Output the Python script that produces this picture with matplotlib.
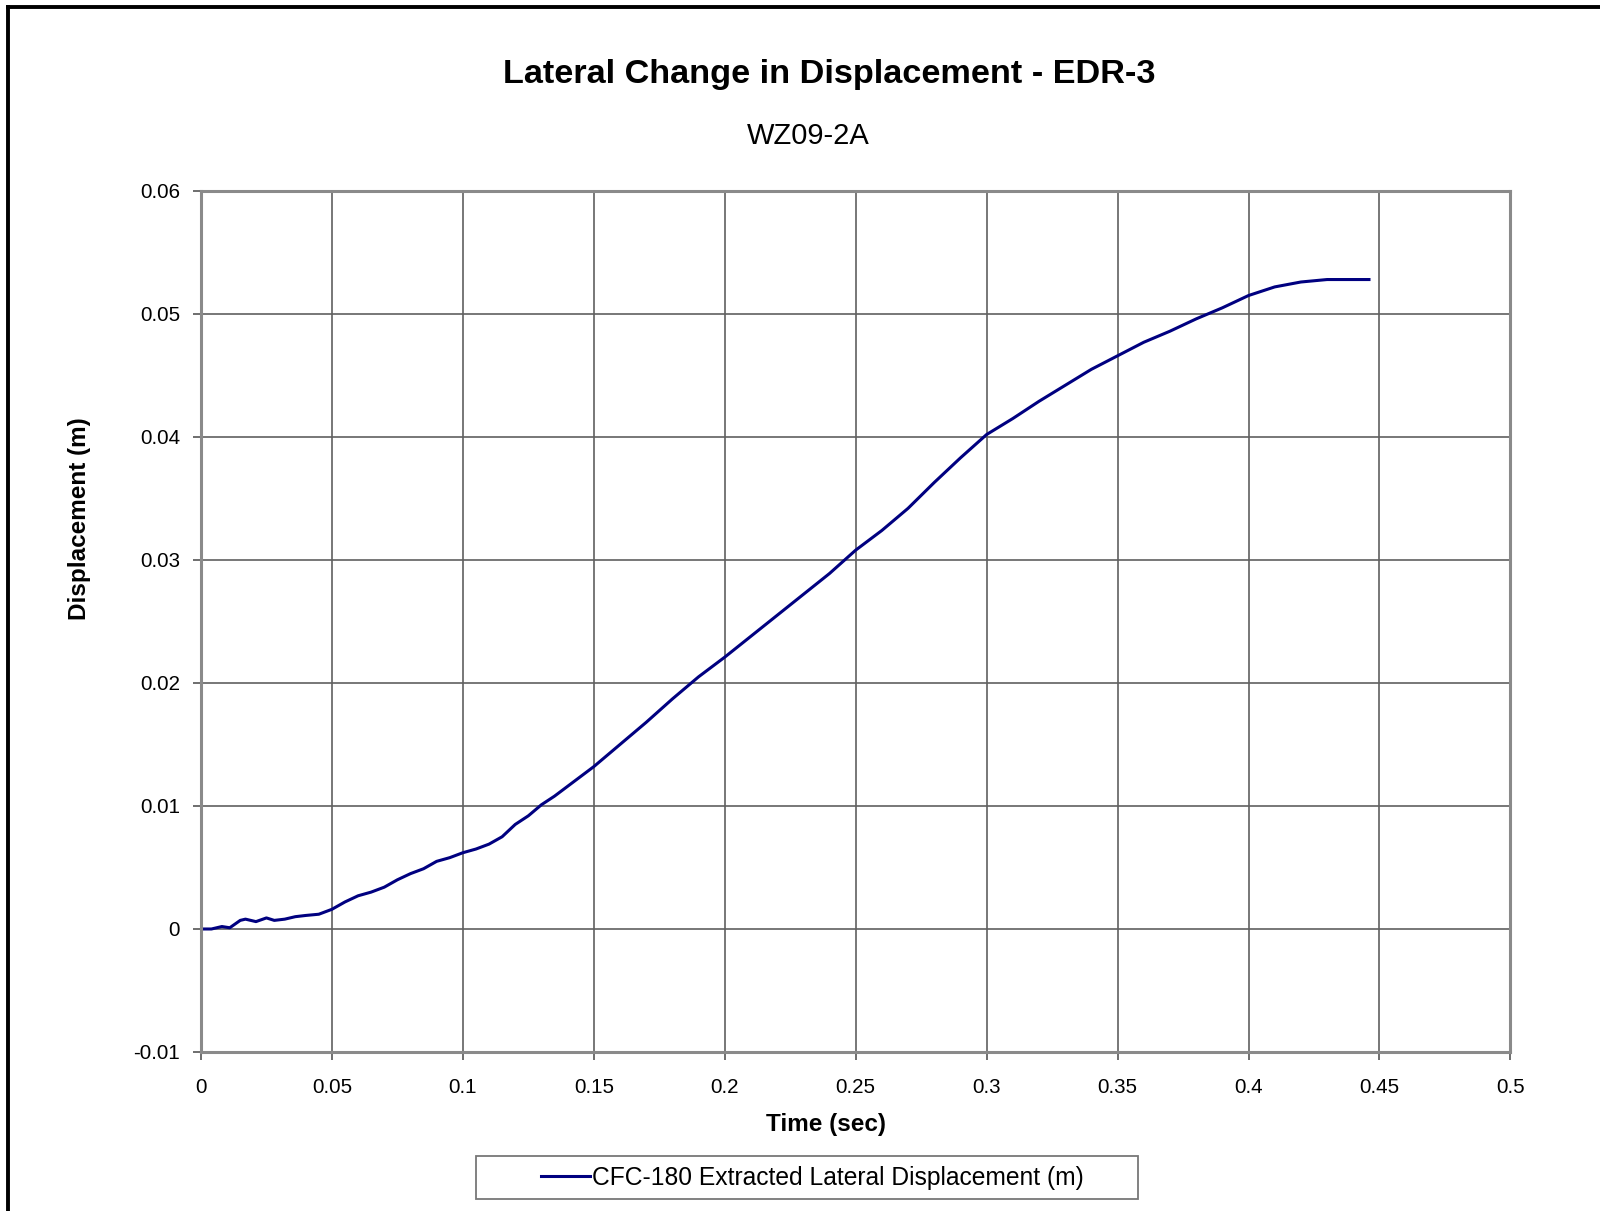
import matplotlib.pyplot as plt
from matplotlib.lines import Line2D
from matplotlib.patches import Rectangle

plt.rcParams['font.family'] = ['Liberation Sans', 'DejaVu Sans']

# time (sec) and lateral displacement (m)
t = [0.0, 0.004, 0.008, 0.011, 0.015, 0.017, 0.021, 0.025, 0.028, 0.032, 0.036,
     0.04, 0.045, 0.05, 0.055, 0.06, 0.065, 0.07, 0.075, 0.08, 0.085, 0.09,
     0.095, 0.1, 0.105, 0.11, 0.115, 0.12, 0.125, 0.13, 0.135, 0.14, 0.15,
     0.16, 0.17, 0.18, 0.19, 0.2, 0.21, 0.22, 0.23, 0.24, 0.25, 0.26, 0.27,
     0.28, 0.29, 0.3, 0.31, 0.32, 0.33, 0.34, 0.35, 0.36, 0.37, 0.38, 0.39,
     0.4, 0.41, 0.42, 0.43, 0.44, 0.446]
disp = [0.0, 0.0, 0.0002, 0.0001, 0.0007, 0.0008, 0.0006, 0.0009, 0.0007, 0.0008,
        0.001, 0.0011, 0.0012, 0.0016, 0.0022, 0.0027, 0.003, 0.0034, 0.004,
        0.0045, 0.0049, 0.0055, 0.0058, 0.0062, 0.0065, 0.0069, 0.0075, 0.0085,
        0.0092, 0.0101, 0.0108, 0.0116, 0.0132, 0.015, 0.0168, 0.0187, 0.0205,
        0.0221, 0.0238, 0.0255, 0.0272, 0.0289, 0.0308, 0.0324, 0.0342, 0.0363,
        0.0383, 0.0402, 0.0415, 0.0429, 0.0442, 0.0455, 0.0466, 0.0477, 0.0486,
        0.0496, 0.0505, 0.0515, 0.0522, 0.0526, 0.0528, 0.0528, 0.0528]

xticks = [0, 0.05, 0.1, 0.15, 0.2, 0.25, 0.3, 0.35, 0.4, 0.45, 0.5]
xtick_labels = ['0', '0.05', '0.1', '0.15', '0.2', '0.25', '0.3', '0.35', '0.4', '0.45', '0.5']
yticks = [-0.01, 0, 0.01, 0.02, 0.03, 0.04, 0.05, 0.06]
ytick_labels = ['-0.01', '0', '0.01', '0.02', '0.03', '0.04', '0.05', '0.06']

fig = plt.figure(figsize=(16, 12.11), dpi=100)
ax = fig.add_axes([0.1256, 0.1313, 0.8184, 0.711])

line, = ax.plot(t, disp, color='#000080', linewidth=2.2)

ax.set_xlim(0, 0.5)
ax.set_ylim(-0.01, 0.06)
ax.set_xticks(xticks)
ax.set_xticklabels(xtick_labels)
ax.set_yticks(yticks)
ax.set_yticklabels(ytick_labels)
ax.tick_params(labelsize=14.8, length=6, width=1.2, color='#555555')
ax.tick_params(axis='y', pad=9)
ax.tick_params(axis='x', pad=13)
ax.grid(True, color='#606060', linewidth=1.2)
for s in ax.spines.values():
    s.set_color('#8a8a8a')
    s.set_linewidth(2.2)

fig.text(0.518, 0.9385, 'Lateral Change in Displacement - EDR-3', ha='center', va='center',
         fontsize=24.7, fontweight='bold')
fig.text(0.505, 0.8875, 'WZ09-2A', ha='center', va='center', fontsize=21)
fig.text(0.516, 0.0718, 'Time (sec)', ha='center', va='center', fontsize=17.5, fontweight='bold')
fig.text(0.0495, 0.572, 'Displacement (m)', ha='center', va='center', rotation=90,
         fontsize=17.5, fontweight='bold')

# legend: box drawn by hand so its padding matches the reference
leg = fig.legend([line], ['CFC-180 Extracted Lateral Displacement (m)'], loc='center',
                 bbox_to_anchor=(0.5078, 0.0275), fontsize=17.7, frameon=False,
                 handlelength=2.0, handletextpad=0.1)
fig.patches.append(Rectangle((0.2978, 0.0099), 0.4133, 0.0355, transform=fig.transFigure,
                             fill=False, edgecolor='#777777', linewidth=1.3))

# outer chart border (top and left edges only visible)
fig.lines.append(Line2D([0.005, 0.005], [0.0, 0.9945], transform=fig.transFigure,
                        color='black', linewidth=2.8))
fig.lines.append(Line2D([0.005, 1.0], [0.9945, 0.9945], transform=fig.transFigure,
                        color='black', linewidth=2.8))

fig.savefig('out.png', dpi=100)
